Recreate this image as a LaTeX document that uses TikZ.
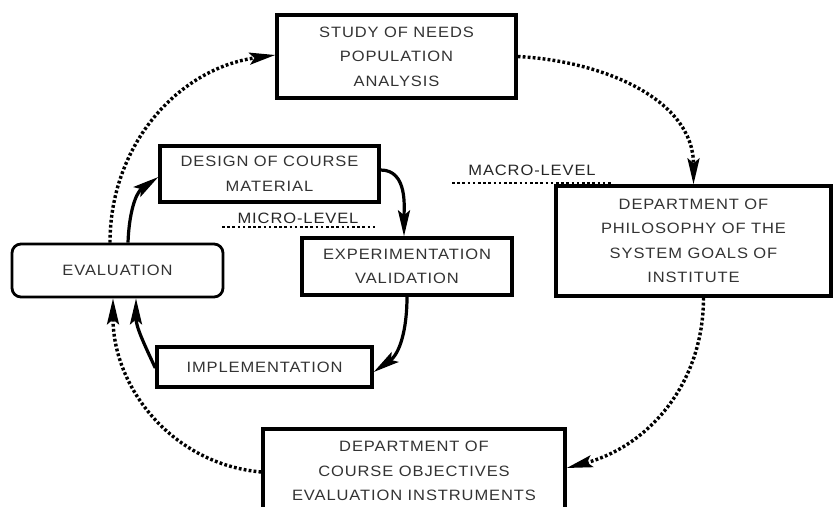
\documentclass[tikz,border=0pt]{standalone}
\usepackage{fontspec}
\setmainfont{Liberation Sans}[LetterSpace=6,FakeStretch=1.1]
\usetikzlibrary{arrows.meta,calc}
\tikzset{
  box/.style={draw=black, line width=3.4pt, align=center, text=black!80,
    font=\fontsize{15}{24.5}\selectfont, inner sep=0pt},
  evalbox/.style={box, line width=2.8pt, rounded corners=9pt},
  flow/.style={line width=3.2pt, arrows={-Stealth[length=26pt,width=12pt,inset=5pt]}},
  dotflow/.style={line width=3.4pt, dash pattern=on 2.8pt off 2.2pt, arrows={-Stealth[length=26pt,width=12pt,inset=5pt]}},
  levelline/.style={line width=2.4pt, dash pattern=on 2.6pt off 2.6pt},
  lbl/.style={text=black!85, font=\fontsize{15}{16}\selectfont, inner sep=0pt}
}
\begin{document}
\begin{tikzpicture}[x=1pt,y=-1pt]
\useasboundingbox (0,0) rectangle (834,506);
\clip (0,0) rectangle (834,506);
\fill[white] (0,0) rectangle (834,506);

\node[box, minimum width=239pt, minimum height=83pt] (study) at (396.5,56.5) {STUDY OF NEEDS\\POPULATION\\ANALYSIS};
\node[box, minimum width=219pt, minimum height=56pt] (design) at (269.5,174) {DESIGN OF COURSE\\MATERIAL};
\node[evalbox, minimum width=211pt, minimum height=53pt] (eval) at (117.5,270.5) {EVALUATION};
\node[box, minimum width=210pt, minimum height=57pt] (exp) at (407,266.5) {EXPERIMENTATION\\VALIDATION};
\node[box, minimum width=215pt, minimum height=40pt] (impl) at (264.5,367) {IMPLEMENTATION};
\node[box, minimum width=275pt, minimum height=110pt] (dept) at (693.5,241) {DEPARTMENT OF\\PHILOSOPHY OF THE\\SYSTEM GOALS OF\\INSTITUTE};
\node[box, minimum width=302pt, minimum height=84pt] (bottom) at (414,471) {DEPARTMENT OF\\COURSE OBJECTIVES\\EVALUATION INSTRUMENTS};

\node[lbl] (micro) at (298,218) {MICRO-LEVEL};
\coordinate (microA) at (222,227);
\coordinate (microB) at (375,227);
\draw[levelline] (microA) -- (microB);
\node[lbl] (macro) at (532,170) {MACRO-LEVEL};
\coordinate (macroA) at (452,183);
\coordinate (macroB) at (613,183);
\draw[levelline] (macroA) -- (macroB);

% macro loop (dotted)
\draw[dotflow] (study.east) to[out=-3,in=90] (dept.north);
\draw[dotflow] ([xshift=10pt]dept.south) to[out=-90,in=15] ([yshift=3pt]bottom.east);
\draw[dotflow] ([yshift=-1pt]bottom.west) to[out=175,in=-90] ([xshift=-4.5pt]eval.south);
\draw[dotflow] ([xshift=-7.5pt]eval.north) to[out=90,in=188] ([yshift=1.5pt]study.west);

% micro loop (solid)
\draw[flow] ([xshift=10.5pt]eval.north) to[out=88,in=215] ([yshift=-3pt]design.west);
\draw[flow] ([yshift=4pt]design.east) to[out=0,in=90] ([xshift=-3pt]exp.north);
\draw[flow] (exp.south) to[out=-90,in=35] ([yshift=-5pt]impl.east);
\draw[flow] ([yshift=-1pt]impl.west) to[out=115,in=-90] ([xshift=18.5pt]eval.south);
\end{tikzpicture}
\end{document}
